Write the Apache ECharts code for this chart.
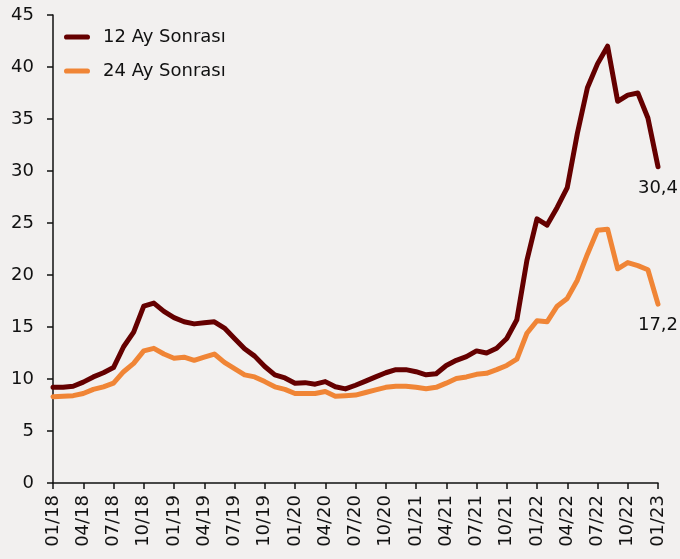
<!DOCTYPE html>
<html>
<head>
<meta charset="utf-8">
<script src="https://cdn.jsdelivr.net/npm/echarts@6/dist/echarts.min.js"></script>
<style>
html,body{margin:0;padding:0;background:#F2F0EF;}
#c{width:680px;height:559px;}
</style>
</head>
<body>
<div id="c"></div>
<script>
const years = ['18','19','20','21','22','23'];
const categories = [];
for (const y of years) {
  for (let m = 1; m <= 12; m++) {
    categories.push(String(m).padStart(2,'0') + '/' + y);
    if (y === '23') break;
  }
}
const seriesNames = ['12 Ay Sonrası', '24 Ay Sonrası'];
const ay12 = [
  9.2, 9.2, 9.3, 9.7, 10.2, 10.6, 11.1, 13.1, 14.5, 17.0, 17.3, 16.5,
  15.9, 15.5, 15.3, 15.4, 15.5, 14.9, 13.9, 12.9, 12.2, 11.2, 10.4, 10.1,
  9.6, 9.65, 9.5, 9.75, 9.25, 9.05, 9.4, 9.8, 10.2, 10.6, 10.9, 10.9,
  10.7, 10.4, 10.5, 11.3, 11.8, 12.15, 12.7, 12.5, 12.95, 13.9, 15.7, 21.4,
  25.4, 24.8, 26.5, 28.4, 33.6, 38.0, 40.3, 42.0, 36.7, 37.3, 37.5, 35.1,
  30.4
];
const ay24 = [
  8.3, 8.35, 8.4, 8.6, 9.0, 9.25, 9.6, 10.7, 11.5, 12.7, 12.95, 12.4,
  12.0, 12.1, 11.8, 12.1, 12.4, 11.6, 11.0, 10.4, 10.2, 9.75, 9.25, 9.0,
  8.6, 8.6, 8.6, 8.8, 8.35, 8.4, 8.45, 8.7, 8.95, 9.2, 9.3, 9.3,
  9.2, 9.07, 9.2, 9.6, 10.05, 10.2, 10.45, 10.55, 10.9, 11.3, 11.9, 14.4,
  15.6, 15.5, 17.0, 17.75, 19.5, 22.0, 24.3, 24.4, 20.6, 21.2, 20.9, 20.5,
  17.2
];
const endLabels = ['30,4', '17,2'];
const colors = ['#650000', '#F08536'];
const yTicks = {min: 0, max: 45, interval: 5};

const FONT = 'DejaVu Sans';
function buildData(arr, lbl) {
  return arr.map((v, i) => i === arr.length - 1
    ? {value: v, label: {show: true, position: 'bottom', distance: 12, formatter: lbl,
        fontFamily: FONT, fontSize: 18, color: '#111'}}
    : v);
}

const chart = echarts.init(document.getElementById('c'));
chart.setOption({
  backgroundColor: '#F2F0EF',
  animation: false,
  grid: {left: 53, right: 22, top: 15, bottom: 76, containLabel: false},
  legend: {
    show: true,
    left: 59, top: 23, orient: 'vertical', itemGap: 16,
    itemWidth: 26, itemHeight: 12,
    icon: 'path://M2.5,0 L22.5,0 A2.5,2.5 0 0 1 22.5,5 L2.5,5 A2.5,2.5 0 0 1 2.5,0 Z',
    textStyle: {fontFamily: FONT, fontSize: 18, color: '#111', padding: [0, 0, 0, 8]},
    data: seriesNames.map((n, i) => ({name: n, itemStyle: {color: colors[i]}}))
  },
  xAxis: {
    type: 'category',
    data: categories,
    boundaryGap: false,
    axisLine: {lineStyle: {color: '#111', width: 1.5}},
    axisTick: {show: true, interval: 2, length: 6, lineStyle: {color: '#111', width: 1.5}},
    axisLabel: {interval: 2, rotate: 90, fontFamily: FONT, fontSize: 18, color: '#111', margin: 12},
    splitLine: {show: false}
  },
  yAxis: {
    type: 'value',
    min: yTicks.min, max: yTicks.max, interval: yTicks.interval,
    axisLine: {show: true, lineStyle: {color: '#111', width: 1.5}},
    axisTick: {show: true, length: 6, lineStyle: {color: '#111', width: 1.5}},
    axisLabel: {fontFamily: FONT, fontSize: 18, color: '#111', margin: 19},
    splitLine: {show: false}
  },
  series: [
    {name: seriesNames[0], type: 'line', data: buildData(ay12, endLabels[0]),
     symbol: 'circle', symbolSize: 0.1, showSymbol: true, showAllSymbol: true,
     lineStyle: {color: colors[0], width: 5, join: 'round', cap: 'round'},
     itemStyle: {color: colors[0]}, z: 3},
    {name: seriesNames[1], type: 'line', data: buildData(ay24, endLabels[1]),
     symbol: 'circle', symbolSize: 0.1, showSymbol: true, showAllSymbol: true,
     lineStyle: {color: colors[1], width: 5, join: 'round', cap: 'round'},
     itemStyle: {color: colors[1]}, z: 2}
  ]
});
</script>
</body>
</html>
